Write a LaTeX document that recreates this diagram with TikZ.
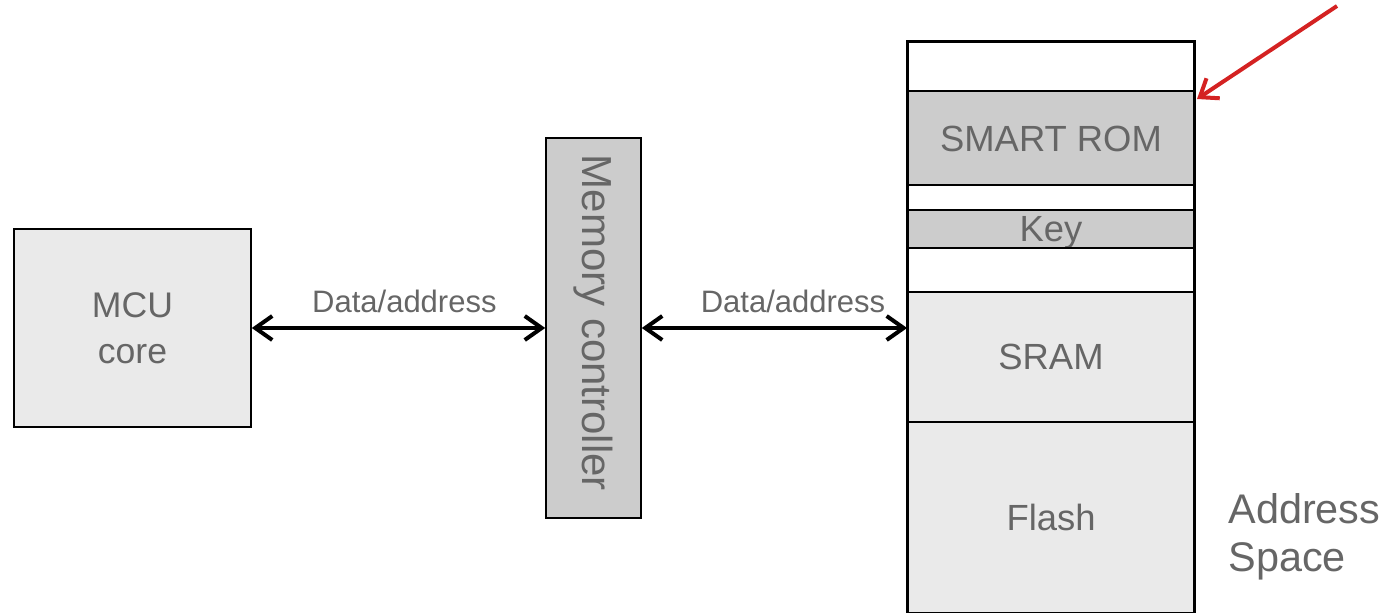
\documentclass[tikz,border=0pt]{standalone}
\usepackage{fontspec}
\setmainfont{Liberation Sans}
\usetikzlibrary{arrows.meta,calc}
\definecolor{boxdark}{HTML}{CCCCCC}
\definecolor{boxlight}{HTML}{EAEAEA}
\definecolor{labelgray}{HTML}{666666}
\definecolor{pointred}{HTML}{D42222}
\tikzset{
  block/.style={draw=black, line width=0.8pt, inner sep=0pt, text=labelgray,
    font=\fontsize{17.8}{23}\selectfont, align=center},
  seg/.style={draw=black, line width=0.9pt, inner sep=0pt, minimum width=143pt,
    text=labelgray, font=\fontsize{18.2}{23}\selectfont, text height=13pt, text depth=0pt},
  barbtip/.tip={Straight Barb[length=8.5pt,width=12pt,line width=2pt]},
  biarrow/.style={line width=2pt, barbtip-barbtip},
  buslabel/.style={text=labelgray, font=\fontsize{15.5}{18}\selectfont, anchor=base, inner sep=0pt},
}
\begin{document}
\begin{tikzpicture}[x=0.5pt, y=-0.5pt]
  \useasboundingbox (0,0) rectangle (1385,613);

  % processor core and memory controller
  \node[block, fill=boxlight, minimum width=118.5pt, minimum height=99pt] (mcu) at (132.5,328) {MCU\\core};
  \node[block, fill=boxdark, minimum width=47.5pt, minimum height=190pt] (mc) at (593.5,328) {};
  \node[text=labelgray, font=\fontsize{21}{23}\selectfont, rotate=-90, inner sep=0pt] (mctext) at ([yshift=2.5pt]mc.center) {Memory controller};

  % address map, top to bottom
  \node[seg, fill=white,    minimum height=24.5pt] (gap1)  at (1051,66.5) {};
  \node[seg, fill=boxdark,  minimum height=47.5pt] (rom)   at (1051,138.5) {SMART ROM};
  \node[seg, fill=white,    minimum height=12pt]   (gap2)  at (1051,198) {};
  \node[seg, fill=boxdark,  minimum height=19pt]   (key)   at (1051,229) {Key};
  \node[seg, fill=white,    minimum height=22pt]   (gap3)  at (1051,270) {};
  \node[seg, fill=boxlight, minimum height=65pt]   (sram)  at (1051,357) {SRAM};
  \node[seg, fill=boxlight, minimum height=95.5pt] (flash) at (1051,517.5) {Flash};
  \draw[line width=1.5pt] (gap1.north west) rectangle (flash.south east);

  \node[text=labelgray, font=\fontsize{20.7}{24}\selectfont, align=left, anchor=north west, inner sep=0pt] (aslabel) at (1228,493) {Address\\Space};

  % data/address buses
  \draw[biarrow] (mcu.east) -- node[buslabel, pos=0.52, yshift=7.5pt] (bus1) {Data/address} (mc.west);
  \draw[biarrow] (mc.east) -- node[buslabel, pos=0.57, yshift=7.5pt] (bus2) {Data/address} (mc.east -| sram.west);

  % pointer to the SMART ROM region
  \coordinate (redtail) at (1337,6);
  \coordinate (redtip) at (1197,99);
  \draw[pointred, line width=2pt, -{Straight Barb[length=8pt,width=12pt,line width=2pt]}] (redtail) -- (redtip);
\end{tikzpicture}
\end{document}
